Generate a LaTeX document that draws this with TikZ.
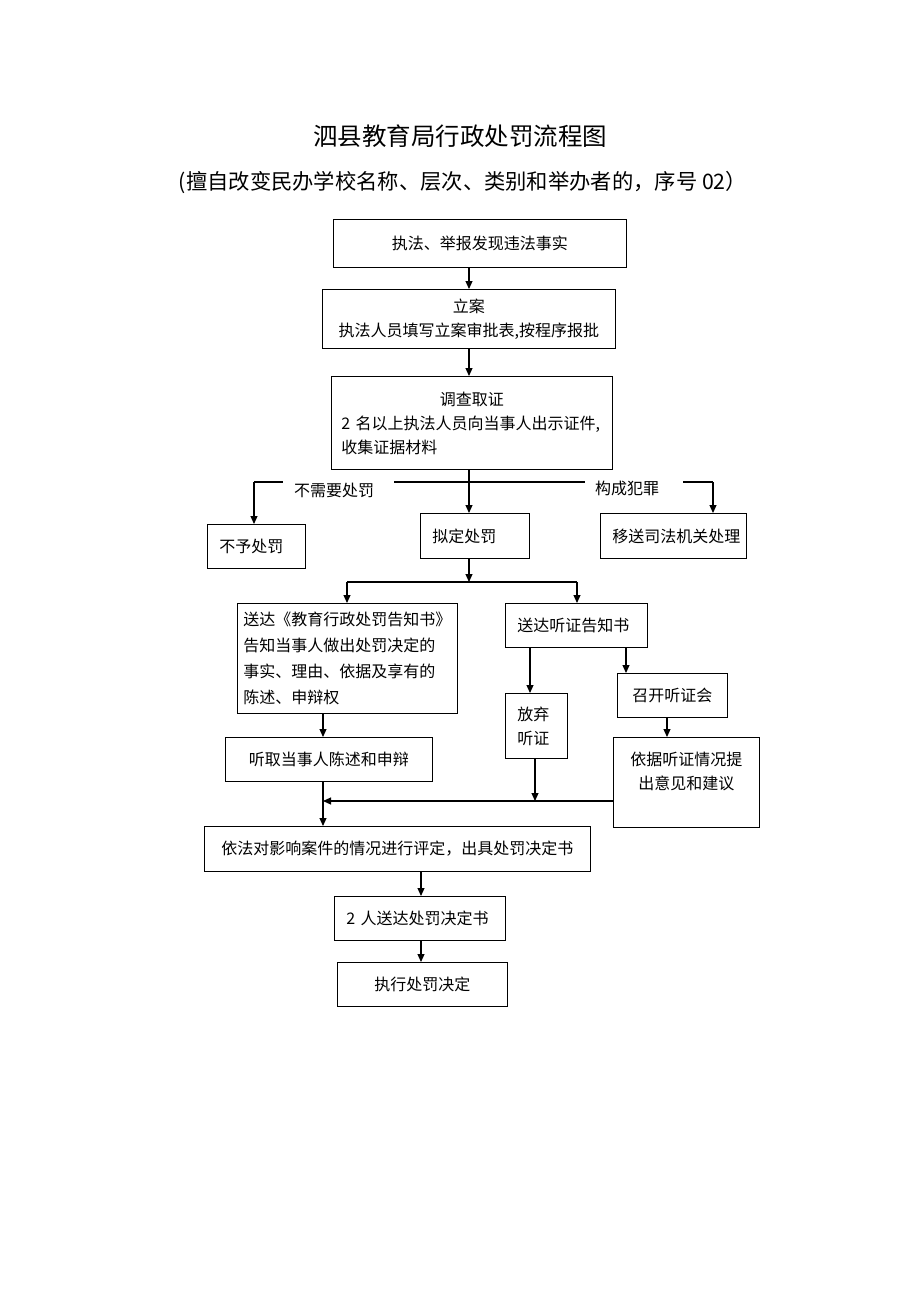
\documentclass[tikz,border=0pt]{standalone}
\usepackage{fontspec}
\newfontfamily\cjk{Noto Sans CJK SC}
\usetikzlibrary{arrows.meta, positioning}
\newcommand{\bodyfont}{\cjk\fontsize{16pt}{24pt}\selectfont}

\begin{document}
\begin{tikzpicture}[x=1pt, y=-1pt, >={Triangle[length=8pt,width=7pt]},
	box/.style={draw, line width=0.9pt, anchor=north west, inner xsep=12pt, inner ysep=0pt, font=\bodyfont},
	lbox/.style={box, align=left},
	cbox/.style={box, align=center},
	wire/.style={line width=1.1pt}]
			\useasboundingbox (0,0) rectangle (920,1302);
			\node[font=\cjk\fontsize{24.5pt}{28pt}\selectfont] (title) at (460,136) {泗县教育局行政处罚流程图};
			\node[font=\cjk\fontsize{21.3pt}{24pt}\selectfont] (sub) at (463,182) {(擅自改变民办学校名称、层次、类别和举办者的，序号 02）};
			\node[cbox, minimum width=293pt, minimum height=48pt] (b1) at (333,219) {执法、举报发现违法事实};
			\node[cbox, minimum width=293pt, minimum height=59pt] (b2) at (322,289) {立案\\执法人员填写立案审批表,按程序报批};
			\node[lbox, inner xsep=10pt, text width=261pt, minimum height=93pt] (b3) at (331,376) {\makebox[261pt]{调查取证}\\2 名以上执法人员向当事人出示证件,\\收集证据材料};
			\node[lbox, text width=74pt, minimum height=44pt] (nopen) at (207,524) {不予处罚};
			\node[lbox, text width=85pt, minimum height=45pt] (ndec) at (420,513) {拟定处罚};
			\node[lbox, text width=122pt, minimum height=45pt] (court) at (600,513) {移送司法机关处理};
			\node[font=\bodyfont] (nopun) at (334,490) {不需要处罚};
			\node[font=\bodyfont] (crime) at (627,488) {构成犯罪};
			\node[lbox, inner xsep=6pt, text width=208pt, minimum height=110pt, font=\cjk\fontsize{16pt}{26pt}\selectfont] (notice) at (237,603) {送达《教育行政处罚告知书》\\告知当事人做出处罚决定的\\事实、理由、依据及享有的\\陈述、申辩权};
			\node[lbox, text width=118pt, minimum height=44pt] (hnote) at (505,603) {送达听证告知书};
			\node[lbox, text width=38pt, minimum height=65pt] (waive) at (505,693) {放弃\\听证};
			\node[cbox, minimum width=110pt, minimum height=44pt] (hear) at (617,673) {召开听证会};
			\node[cbox, minimum width=146pt, minimum height=90pt] (advice) at (613,737) {依据听证情况提\\出意见和建议\\~};
			\node[cbox, minimum width=207pt, minimum height=44pt] (listen) at (225,737) {听取当事人陈述和申辩};
			\node[cbox, minimum width=386pt, minimum height=45pt] (decide) at (204,826) {依法对影响案件的情况进行评定，出具处罚决定书};
			\node[lbox, text width=147pt, minimum height=44pt] (deliver) at (334,896) {2 人送达处罚决定书};
			\node[cbox, minimum width=170pt, minimum height=44pt] (execute) at (337,962) {执行处罚决定};
			% split and merge points
			\coordinate (spine) at (469,0);
			\coordinate (s1) at (254,482);
			\coordinate (s2) at (283,482);
			\coordinate (s3) at (394,482);
			\coordinate (s4) at (585,482);
			\coordinate (s5) at (683,482);
			\coordinate (s6) at (713,482);
			\coordinate (fl) at (347,582);
			\coordinate (fr) at (577,582);
			\coordinate (mg) at (323,801);
			\coordinate (xw) at (530,0);
			\coordinate (xh) at (626,0);
			\coordinate (xa) at (667,0);
			\coordinate (xv) at (535,0);
			\coordinate (xd) at (421,0);
			\draw[wire] (s1) -- (s2) (s3) -- (s4) (s5) -- (s6) (fl) -- (fr);
			\path[->, wire]
				(b1.south -| spine) edge (b2.north -| spine)
				(b2.south -| spine) edge (b3.north -| spine)
				(b3.south -| spine) edge (ndec.north -| spine)
				(s1) edge (nopen.north -| s1)
				(s6) edge (court.north -| s6)
				(ndec.south -| spine) edge (fl -| spine)
				(fl) edge (notice.north -| fl)
				(fr) edge (hnote.north -| fr)
				(hnote.south -| xw) edge (waive.north -| xw)
				(hnote.south -| xh) edge (hear.north -| xh)
				(hear.south -| xa) edge (advice.north -| xa)
				(notice.south -| mg) edge (listen.north -| mg)
				(listen.south -| mg) edge (decide.north -| mg)
				(advice.west |- mg) edge (mg)
				(waive.south -| xv) edge (mg -| xv)
				(decide.south -| xd) edge (deliver.north -| xd)
				(deliver.south -| xd) edge (execute.north -| xd);
		\end{tikzpicture}
\end{document}
